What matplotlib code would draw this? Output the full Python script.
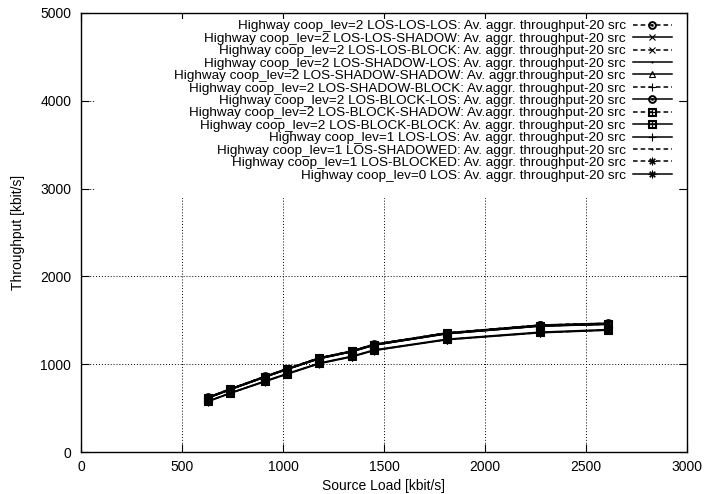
import matplotlib
matplotlib.use("Agg")
import matplotlib.pyplot as plt
from matplotlib.patches import Rectangle

plt.rcParams['font.family'] = ['Liberation Sans', 'DejaVu Sans']

# Offered source load per point [kbit/s]
source_load = [630, 740, 910, 1020, 1180, 1340, 1450, 1810, 2270, 2610]

labels = [
    "Highway coop_lev=2 LOS-LOS-LOS: Av. aggr. throughput-20 src",
    "Highway coop_lev=2 LOS-LOS-SHADOW: Av. aggr. throughput-20 src",
    "Highway coop_lev=2 LOS-LOS-BLOCK: Av. aggr. throughput-20 src",
    "Highway coop_lev=2 LOS-SHADOW-LOS: Av. aggr. throughput-20 src",
    "Highway coop_lev=2 LOS-SHADOW-SHADOW: Av. aggr.throughput-20 src",
    "Highway coop_lev=2 LOS-SHADOW-BLOCK: Av.aggr. throughput-20 src",
    "Highway coop_lev=2 LOS-BLOCK-LOS: Av. aggr. throughput-20 src",
    "Highway coop_lev=2 LOS-BLOCK-SHADOW: Av.aggr. throughput-20 src",
    "Highway coop_lev=2 LOS-BLOCK-BLOCK: Av. aggr. throughput-20 src",
    "Highway coop_lev=1 LOS-LOS: Av. aggr. throughput-20 src",
    "Highway coop_lev=1 LOS-SHADOWED: Av. aggr. throughput-20 src",
    "Highway coop_lev=1 LOS-BLOCKED: Av. aggr. throughput-20 src",
    "Highway coop_lev=0 LOS: Av. aggr. throughput-20 src",
]

# Average aggregate throughput [kbit/s]
tp_c2_los_los_los       = [620, 716, 858, 946, 1070, 1148, 1224, 1354, 1442, 1463]
tp_c2_los_los_shadow    = [618, 714, 855, 943, 1066, 1145, 1220, 1350, 1437, 1458]
tp_c2_los_los_block     = [623, 719, 860, 948, 1072, 1150, 1226, 1356, 1445, 1466]
tp_c2_los_shadow_los    = [615, 711, 852, 940, 1063, 1141, 1216, 1346, 1433, 1454]
tp_c2_los_shadow_shadow = [621, 717, 857, 945, 1069, 1147, 1222, 1352, 1440, 1461]
tp_c2_los_shadow_block  = [617, 713, 854, 942, 1065, 1143, 1218, 1348, 1435, 1456]
tp_c2_los_block_los     = [624, 720, 861, 949, 1073, 1151, 1227, 1357, 1446, 1468]
tp_c2_los_block_shadow  = [619, 715, 856, 944, 1067, 1146, 1221, 1351, 1438, 1459]
tp_c2_los_block_block   = [580, 674, 808, 893, 1013, 1090, 1162, 1285, 1365, 1395]
tp_c1_los_los           = [616, 712, 853, 941, 1064, 1142, 1217, 1347, 1434, 1455]
tp_c1_los_shadowed      = [622, 718, 859, 947, 1071, 1149, 1225, 1355, 1443, 1464]
tp_c1_los_blocked       = [577, 671, 804, 889, 1009, 1086, 1158, 1281, 1360, 1390]
tp_c0_los               = [575, 669, 801, 886, 1006, 1083, 1155, 1278, 1357, 1387]

series = [tp_c2_los_los_los, tp_c2_los_los_shadow, tp_c2_los_los_block,
          tp_c2_los_shadow_los, tp_c2_los_shadow_shadow, tp_c2_los_shadow_block,
          tp_c2_los_block_los, tp_c2_los_block_shadow, tp_c2_los_block_block,
          tp_c1_los_los, tp_c1_los_shadowed, tp_c1_los_blocked, tp_c0_los]

DASH = (0, (3, 2))
SOLID = '-'
styles = [
    (DASH, r'$\odot$', 5.5),
    (SOLID, 'x', 4.5),
    (DASH, 'x', 4.5),
    (SOLID, '.', 1.5),
    (SOLID, '^', 4.5),
    (DASH, '+', 5.5),
    (SOLID, r'$\odot$', 5.5),
    (DASH, r'$\boxplus$', 5.5),
    (SOLID, r'$\boxplus$', 5.5),
    (SOLID, '+', 5.5),
    (DASH, '.', 1.5),
    (DASH, (8, 2, 0), 5.5),
    (SOLID, (8, 2, 0), 5.5),
]

fig = plt.figure(figsize=(7.04, 4.94), dpi=100)
ax = fig.add_axes([81 / 704, 42 / 494, 606 / 704, 439 / 494])

for vals, lab, (ls, mk, ms) in zip(series, labels, styles):
    ax.plot(source_load, vals, color='black', linestyle=ls, linewidth=1.1,
            marker=mk, markersize=ms, markerfacecolor='none',
            markeredgecolor='black', markeredgewidth=0.8, label=lab, zorder=3)

ax.set_xlim(0, 3000)
ax.set_ylim(0, 5000)
ax.set_xticks(range(0, 3001, 500))
ax.set_yticks(range(0, 5001, 1000))
ax.tick_params(direction='in', length=6, width=0.8, top=True, right=True,
               labelsize=10, colors='black')
ax.tick_params(axis='y', pad=7)
ax.tick_params(axis='x', pad=6)
ax.grid(True, color='black', linestyle=(0, (1, 2)), linewidth=0.7)
for sp in ax.spines.values():
    sp.set_linewidth(1.0)

# white backing area behind the key
ax.add_patch(Rectangle((14 / 606, 254 / 439), 583 / 606, 179 / 439,
                       transform=ax.transAxes, facecolor='white',
                       edgecolor='none', zorder=1.8))

ax.set_xlabel("Source Load [kbit/s]", fontsize=10, labelpad=3)
ax.set_ylabel("Throughput [kbit/s]", fontsize=10, labelpad=11)

leg = ax.legend(loc='upper right', bbox_to_anchor=(591 / 606, 1 - 7 / 439),
                frameon=False, markerfirst=False, fontsize=9.7,
                handlelength=2.9, handletextpad=0.55, labelspacing=0.0,
                borderaxespad=0, borderpad=0)
leg.set_zorder(4)

fig.savefig("out.png", dpi=100)
